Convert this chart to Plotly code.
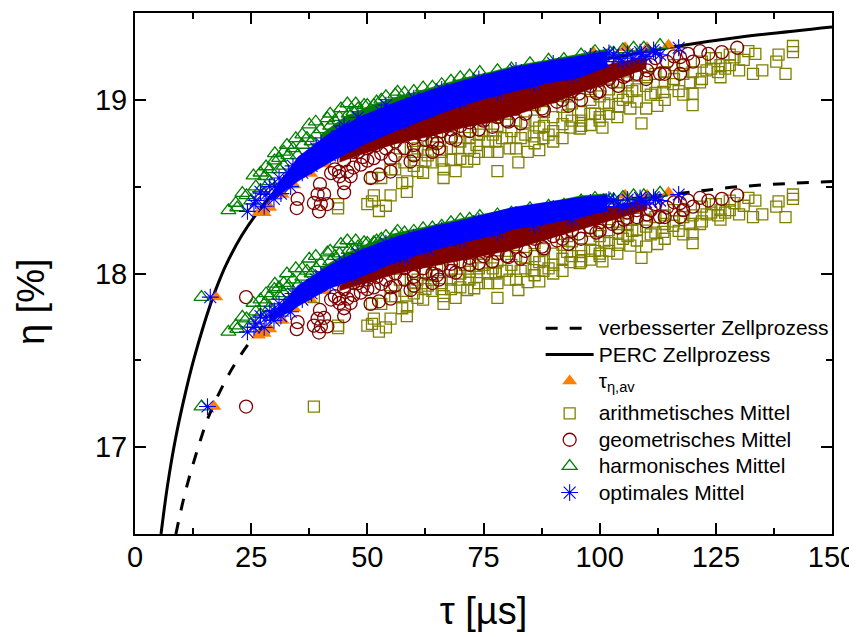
import plotly.graph_objects as go

FONT = "Liberation Sans"

perc_tau = [5.6, 7, 8.8, 11, 12.8, 16.2, 18, 19.6, 23, 26.6, 30, 40, 50, 60, 70, 80, 90, 100, 117, 130, 150]
perc_eta = [16.5, 16.78, 17.06, 17.33, 17.52, 17.82, 17.95, 18.05, 18.22, 18.36, 18.47, 18.72, 18.87, 18.98, 19.07, 19.13, 19.19, 19.23, 19.31, 19.36, 19.42]
impr_tau = [8.8, 11, 14.8, 15.9, 19.2, 22, 25.4, 30, 40, 50, 60, 70, 80, 90, 100, 117, 130, 150]
impr_eta = [16.5, 16.76, 17.1, 17.18, 17.37, 17.5, 17.63, 17.77, 17.97, 18.09, 18.18, 18.26, 18.32, 18.37, 18.41, 18.46, 18.50, 18.53]

extra_eta = [17.864, 17.234]
extra_arith = [38.5, 38.5]
extra_geo = [23.9, 23.9]
extra_harm = [14.3, 14.3]
extra_opt = [16.2, 15.6]
extra_avg = [17.4, 17.0]

avg_tau = [27.8, 26.6, 29, 31.7, 34.2, 37.8, 40.7, 45, 98.6, 105.5, 110.2, 114.8]
avg_up = [18.35, 18.35, 18.38, 18.455, 18.51, 18.576, 18.63, 18.70, 19.275, 19.30, 19.30, 19.315]
avg_lo = [17.655, 17.645, 17.68, 17.73, 17.80, 17.85, 17.90, 17.96, 18.42, 18.45, 18.45, 18.465]

arith_tau = [
    43.7, 43.7, 50, 51, 51.4, 52.5, 55, 54, 58.5, 51,
    53, 57.5, 58.6, 62, 60.8, 66.4, 66.4, 69, 71.5, 73,
    68, 64, 73.5, 72, 70, 60.8, 63, 69.5, 56, 62.5,
    78, 82.5, 80.6, 84.5, 87, 77.6, 85.8, 87.9, 93.7, 95.7,
    98, 100.6, 109, 103.8, 106.6, 112.4, 120, 120, 115.8, 126,
    133, 135, 140, 138, 138.5, 141.6, 141.6, 133.5, 132, 131,
    129, 130, 125.5, 123, 121.6, 119.5, 113.7, 118, 126, 122,
    75, 78, 81, 84, 87, 90, 93, 96, 99, 102,
    105, 108, 111, 114, 117, 110, 107, 104, 101, 92,
    89, 76, 79, 83, 90, 96, 100, 66, 71, 68,
    58, 60, 55, 62, 57, 65, 74, 80, 86, 93,
    112, 116, 125, 128, 108, 104, 98, 77,
    60, 62, 64, 66, 68, 70, 72, 74, 74, 76,
    78, 78, 80, 82, 82, 84, 86, 86, 88, 88,
    90, 92, 92, 94, 94, 96, 98, 98, 100, 100,
    102, 102, 104, 106, 106, 108, 110, 110, 112, 114,
    114, 116, 118, 118, 120, 122, 124, 124, 127, 128,
]
arith_up = [
    18.375, 18.40, 18.40, 18.415, 18.45, 18.36, 18.45, 18.39, 18.47, 18.55,
    18.55, 18.52, 18.53, 18.58, 18.59, 18.6, 18.55, 18.59, 18.645, 18.66,
    18.655, 18.64, 18.74, 18.78, 18.76, 18.72, 18.68, 18.72, 18.6, 18.65,
    18.59, 18.64, 18.72, 18.70, 18.71, 18.76, 18.79, 18.78, 18.84, 18.835,
    18.855, 18.84, 18.865, 18.90, 18.95, 18.965, 18.97, 19.035, 19.09, 19.13,
    19.15, 19.17, 19.15, 19.22, 19.26, 19.275, 19.31, 19.265, 19.28, 19.23,
    19.245, 19.17, 19.16, 19.17, 19.1, 19.1, 19.045, 19.15, 19.2, 19.22,
    18.82, 18.85, 18.82, 18.87, 18.84, 18.9, 18.91, 18.93, 18.92, 18.97,
    19.0, 18.99, 19.03, 19.1, 19.05, 19.08, 19.05, 19.04, 18.98, 18.86,
    18.8, 18.7, 18.78, 18.78, 18.76, 18.88, 18.9, 18.7, 18.82, 18.79,
    18.64, 18.7, 18.6, 18.77, 18.72, 18.79, 18.9, 18.92, 18.97, 19.02,
    19.15, 19.2, 19.24, 19.2, 19.14, 19.1, 19.05, 18.8,
    18.62, 18.7, 18.75, 18.65, 18.72, 18.66, 18.72, 18.8, 18.7, 18.76,
    18.7, 18.9, 18.78, 18.72, 18.88, 18.8, 18.75, 18.88, 18.85, 18.93,
    18.82, 18.78, 18.96, 18.88, 18.98, 18.85, 18.92, 19.0, 18.88, 19.02,
    18.92, 19.06, 18.96, 19.02, 19.1, 19.06, 18.95, 19.13, 19.04, 19.0,
    19.16, 19.12, 19.03, 19.2, 19.16, 19.12, 19.18, 19.24, 19.18, 19.26,
]
arith_lo = [
    17.685, 17.70, 17.70, 17.71, 17.74, 17.665, 17.74, 17.69, 17.755, 17.825,
    17.825, 17.80, 17.81, 17.85, 17.86, 17.87, 17.825, 17.86, 17.905, 17.915,
    17.91, 17.90, 17.98, 18.01, 18.0, 17.965, 17.93, 17.965, 17.87, 17.91,
    17.86, 17.905, 17.965, 17.95, 17.955, 18.0, 18.02, 18.015, 18.065, 18.06,
    18.08, 18.07, 18.09, 18.115, 18.16, 18.17, 18.175, 18.23, 18.275, 18.31,
    18.325, 18.34, 18.325, 18.385, 18.415, 18.43, 18.455, 18.42, 18.435, 18.39,
    18.405, 18.34, 18.335, 18.34, 18.285, 18.285, 18.24, 18.325, 18.365, 18.385,
    18.05, 18.07, 18.05, 18.09, 18.065, 18.115, 18.125, 18.14, 18.13, 18.175,
    18.2, 18.19, 18.225, 18.285, 18.245, 18.27, 18.245, 18.235, 18.185, 18.085,
    18.03, 17.945, 18.015, 18.015, 18.0, 18.1, 18.115, 17.945, 18.05, 18.02,
    17.90, 17.945, 17.87, 18.005, 17.965, 18.02, 18.115, 18.13, 18.175, 18.215,
    18.325, 18.365, 18.4, 18.365, 18.315, 18.285, 18.245, 18.03,
    17.885, 17.945, 17.99, 17.91, 17.965, 17.92, 17.965, 18.03, 17.945, 18.0,
    17.945, 18.115, 18.015, 17.965, 18.1, 18.03, 17.99, 18.1, 18.07, 18.14,
    18.05, 18.015, 18.165, 18.1, 18.185, 18.07, 18.13, 18.2, 18.1, 18.215,
    18.13, 18.25, 18.165, 18.215, 18.285, 18.25, 18.155, 18.31, 18.235, 18.2,
    18.335, 18.3, 18.225, 18.365, 18.335, 18.3, 18.35, 18.4, 18.35, 18.42,
]

geo_tau = [
    35, 34.8, 39.8, 38.5, 39.3, 40.7, 41.4, 39.6, 40, 45,
    42.2, 43.9, 45.7, 45, 46.4, 50.7, 52.5, 55, 59.3, 48.6,
    51.4, 56, 53, 64, 65.4, 62.5, 69, 60, 76.9, 80.4,
    83, 87.6, 93.3, 90.8, 95.5, 99.3, 102.7, 105.9, 113, 117.3,
    114.5, 120.1, 117.3, 119, 121.6, 123.4, 126.3, 129.6, 110.2, 108,
    105.2, 100.1, 72, 68, 75, 58, 49, 47, 44, 111,
    48, 50, 52, 54, 56, 58, 60, 62, 64, 66,
    68, 70, 72, 74, 76, 78, 80, 82, 84, 86,
    88, 90, 92, 94, 96, 98, 100, 102, 104, 106,
    108, 110, 112, 114, 116, 118, 104, 100, 96, 92,
    45, 43, 47, 50, 55, 60, 65,
]
geo_up = [
    18.43, 18.377, 18.515, 18.406, 18.455, 18.457, 18.4, 18.358, 18.4, 18.467,
    18.578, 18.587, 18.587, 18.52, 18.56, 18.55, 18.57, 18.587, 18.645, 18.627,
    18.664, 18.68, 18.69, 18.70, 18.72, 18.77, 18.77, 18.74, 18.845, 18.874,
    18.864, 18.95, 18.966, 18.989, 19.036, 19.04, 19.103, 19.143, 19.15, 19.15,
    19.218, 19.22, 19.246, 19.265, 19.28, 19.265, 19.275, 19.30, 19.17, 19.15,
    19.132, 19.115, 18.82, 18.83, 18.88, 18.8, 18.67, 18.61, 18.56, 19.2,
    18.7, 18.72, 18.74, 18.72, 18.76, 18.72, 18.78, 18.8, 18.76, 18.82,
    18.78, 18.85, 18.87, 18.83, 18.92, 18.9, 18.88, 18.95, 18.92, 19.0,
    18.94, 19.02, 19.0, 19.05, 19.0, 19.08, 19.05, 19.12, 19.08, 19.18,
    19.2, 19.12, 19.24, 19.15, 19.25, 19.2, 19.2, 19.17, 19.12, 19.08,
    18.65, 18.6, 18.7, 18.65, 18.66, 18.68, 18.75,
]
geo_lo = [
    17.72, 17.68, 17.79, 17.70, 17.74, 17.745, 17.695, 17.66, 17.695, 17.755,
    17.85, 17.855, 17.855, 17.80, 17.83, 17.825, 17.84, 17.855, 17.905, 17.89,
    17.92, 17.93, 17.94, 17.945, 17.965, 18.005, 18.005, 17.98, 18.07, 18.095,
    18.085, 18.155, 18.17, 18.19, 18.23, 18.235, 18.285, 18.32, 18.325, 18.325,
    18.38, 18.385, 18.405, 18.42, 18.435, 18.42, 18.43, 18.45, 18.34, 18.325,
    18.31, 18.295, 18.05, 18.055, 18.10, 18.03, 17.925, 17.875, 17.83, 18.365,
    17.945, 17.965, 17.98, 17.965, 18.0, 17.965, 18.015, 18.03, 18.0, 18.05,
    18.015, 18.07, 18.09, 18.06, 18.13, 18.115, 18.1, 18.155, 18.13, 18.2,
    18.145, 18.215, 18.2, 18.245, 18.2, 18.265, 18.245, 18.3, 18.265, 18.35,
    18.365, 18.3, 18.4, 18.325, 18.41, 18.365, 18.365, 18.34, 18.3, 18.265,
    17.91, 17.87, 17.945, 17.91, 17.92, 17.93, 17.99,
]

harm_tau = [
    20.1, 21.7, 23.1, 25.5, 28.2, 30.1, 31, 32.7, 34.6, 37.5,
    38.9, 41.4, 44.3, 45.7, 47.5, 49.3, 51.4, 56.5, 64, 74.2,
    26, 28, 29, 31, 33, 36, 37, 40, 43, 46,
    50, 53, 60, 68, 81, 92.3, 102.3, 103, 105, 107.3,
    109.5, 113,
    22, 24, 25, 27, 27, 29, 30, 32, 32, 34,
    35, 36, 38, 39, 42, 42, 44, 47, 48, 52,
    54, 56, 58, 62, 66, 70, 72, 78, 85, 89,
    96, 99,
]
harm_up = [
    18.364, 18.406, 18.463, 18.564, 18.616, 18.692, 18.664, 18.74, 18.778, 18.857,
    18.874, 18.893, 18.95, 18.979, 18.979, 18.97, 18.97, 19.046, 19.075, 19.16,
    18.5, 18.56, 18.6, 18.6, 18.68, 18.74, 18.78, 18.83, 18.88, 18.92,
    18.97, 19.0, 19.05, 19.11, 19.18, 19.235, 19.27, 19.27, 19.29, 19.30,
    19.30, 19.315,
    18.38, 18.45, 18.42, 18.48, 18.58, 18.53, 18.65, 18.62, 18.7, 18.72,
    18.68, 18.8, 18.76, 18.8, 18.85, 18.92, 18.9, 18.93, 18.95, 18.99,
    19.02, 19.03, 19.04, 19.07, 19.09, 19.13, 19.14, 19.17, 19.21, 19.23,
    19.26, 19.28,
]
harm_lo = [
    17.664, 17.70, 17.75, 17.83, 17.885, 17.94, 17.92, 18.0, 18.03, 18.085,
    18.1, 18.12, 18.17, 18.19, 18.19, 18.18, 18.18, 18.245, 18.265, 18.33,
    17.78, 17.83, 17.87, 17.87, 17.93, 17.98, 18.015, 18.06, 18.10, 18.135,
    18.175, 18.2, 18.245, 18.295, 18.35, 18.395, 18.425, 18.425, 18.44, 18.45,
    18.45, 18.465,
    17.68, 17.74, 17.71, 17.765, 17.85, 17.805, 17.91, 17.885, 17.945, 17.965,
    17.93, 18.03, 18.0, 18.03, 18.07, 18.13, 18.115, 18.14, 18.155, 18.19,
    18.215, 18.225, 18.235, 18.26, 18.275, 18.31, 18.315, 18.34, 18.375, 18.39,
    18.42, 18.435,
]

opt_tau = [
    24.2, 25.6, 27.8, 28.2, 29.9, 31.4, 31, 33, 30, 32,
    35, 37, 39, 41, 43, 46, 45, 49, 53, 56,
    103, 106, 108.7, 111.6, 117, 100, 105, 110, 112, 97,
    34, 36, 38, 40, 42, 44, 47, 48, 51, 54,
    58, 60, 63, 66, 70, 74, 78, 82, 86, 90,
    94, 98, 26, 27, 29, 33.5, 101, 102, 104, 107,
    109, 113,
]
opt_up = [
    18.358, 18.40, 18.387, 18.455, 18.43, 18.46, 18.55, 18.58, 18.5, 18.52,
    18.6, 18.66, 18.72, 18.7, 18.77, 18.79, 18.85, 18.85, 18.93, 18.87,
    19.26, 19.264, 19.275, 19.287, 19.30, 19.24, 19.22, 19.25, 19.27, 19.2,
    18.62, 18.58, 18.62, 18.75, 18.68, 18.82, 18.75, 18.9, 18.82, 18.97,
    18.87, 19.01, 18.93, 19.06, 18.99, 19.12, 19.04, 19.17, 19.09, 19.21,
    19.14, 19.25, 18.42, 18.47, 18.5, 18.5, 19.22, 19.27, 19.24, 19.24,
    19.26, 19.26,
]
opt_lo = [
    17.664, 17.69, 17.69, 17.745, 17.73, 17.755, 17.825, 17.85, 17.785, 17.80,
    17.87, 17.92, 17.965, 17.95, 18.005, 18.02, 18.07, 18.07, 18.13, 18.09,
    18.42, 18.425, 18.435, 18.44, 18.455, 18.40, 18.385, 18.41, 18.425, 18.365,
    17.885, 17.85, 17.885, 17.99, 17.93, 18.05, 17.99, 18.115, 18.05, 18.175,
    18.09, 18.21, 18.14, 18.25, 18.19, 18.30, 18.235, 18.34, 18.275, 18.375,
    18.315, 18.41, 17.71, 17.755, 17.78, 17.78, 18.385, 18.425, 18.40, 18.40,
    18.42, 18.42,
]

# solid cores of the overlapping clouds
core_tau = [40, 45, 50, 56.5, 63.6, 70.8, 76.5, 81.5, 88.7, 95.9, 101.6]
green_top_up = [18.80, 18.90, 18.96, 19.017, 19.069, 19.126, 19.16, 19.195, 19.229, 19.264, 19.292]
green_bot_up = [18.72, 18.82, 18.88, 18.95, 19.0, 19.05, 19.1, 19.13, 19.17, 19.2, 19.24]
green_top_lo = [18.03, 18.11, 18.17, 18.235, 18.275, 18.32, 18.35, 18.378, 18.407, 18.447, 18.46]
green_bot_lo = [17.98, 18.05, 18.11, 18.17, 18.21, 18.26, 18.30, 18.33, 18.36, 18.39, 18.42]

blue_tau = [29, 31, 33.5, 35, 42, 49, 56.5, 63.6, 70.8, 76.5, 81.5, 88.7, 95.9, 101.6]
blue_top_up = [18.44, 18.53, 18.61, 18.67, 18.81, 18.91, 18.99, 19.056, 19.113, 19.153, 19.188, 19.222, 19.256, 19.28]
blue_bot_up = [18.42, 18.45, 18.50, 18.53, 18.64, 18.74, 18.825, 18.90, 18.97, 19.015, 19.05, 19.095, 19.13, 19.19]
blue_top_lo = [17.74, 17.81, 17.88, 17.93, 18.05, 18.14, 18.215, 18.268, 18.31, 18.348, 18.382, 18.411, 18.44, 18.452]
blue_bot_lo = [17.72, 17.75, 17.78, 17.81, 17.915, 17.985, 18.07, 18.13, 18.18, 18.215, 18.255, 18.285, 18.325, 18.36]

maroon_tau = [44, 48, 56.5, 63.6, 70.8, 76.5, 81.5, 88.7, 95.9, 103, 110]
maroon_top_up = [18.68, 18.76, 18.86, 18.93, 19.0, 19.04, 19.08, 19.12, 19.16, 19.21, 19.25]
maroon_bot_up = [18.64, 18.68, 18.75, 18.79, 18.84, 18.87, 18.91, 18.97, 19.04, 19.11, 19.18]
maroon_top_lo = [17.93, 18.0, 18.10, 18.16, 18.21, 18.245, 18.285, 18.314, 18.354, 18.388, 18.43]
maroon_bot_lo = [17.90, 17.93, 18.0, 18.04, 18.08, 18.11, 18.14, 18.2, 18.255, 18.31, 18.365]

OLIVE, MAROON, GREEN, BLUE, ORANGE = "#808000", "#800000", "#008000", "#0000ff", "#ff8000"
LEGEND_TEXT = '<span style="font-size:21px">%s</span>'


def band(tau, hi, lo, color):
    return go.Scatter(x=tau + tau[::-1], y=hi + lo[::-1], mode="lines", fill="toself",
                      fillcolor=color, line=dict(width=0.5, color=color),
                      showlegend=False, hoverinfo="skip")


def cloud(tau, eta, name, color, symbol, size, group, width=1.3):
    return go.Scatter(x=tau, y=eta, mode="markers", name=LEGEND_TEXT % name, legendgroup=group,
                      marker=dict(symbol=symbol, size=size, color=color,
                                  line=dict(color=color, width=width)))


fig = go.Figure()
fig.add_trace(go.Scatter(x=impr_tau, y=impr_eta, mode="lines", name=LEGEND_TEXT % "verbesserter Zellprozess",
                         legendgroup="a", line=dict(color="black", width=3, dash="12px,12px", shape="spline")))
fig.add_trace(go.Scatter(x=perc_tau, y=perc_eta, mode="lines", name=LEGEND_TEXT % "PERC Zellprozess",
                         legendgroup="a", line=dict(color="black", width=3, shape="spline")))
fig.add_trace(cloud(avg_tau + avg_tau + extra_avg, avg_up + avg_lo + extra_eta,
                    "τ<sub>η,av</sub>", ORANGE, "triangle-up", 13, "a", 0))
fig.add_trace(cloud(arith_tau + arith_tau + extra_arith, arith_up + arith_lo + extra_eta,
                    "arithmetisches Mittel", OLIVE, "square-open", 11, "b"))
fig.add_trace(band(maroon_tau, maroon_top_up, maroon_bot_up, MAROON))
fig.add_trace(band(maroon_tau, maroon_top_lo, maroon_bot_lo, MAROON))
fig.add_trace(cloud(geo_tau + geo_tau + extra_geo, geo_up + geo_lo + extra_eta,
                    "geometrisches Mittel", MAROON, "circle-open", 13, "b"))
fig.add_trace(band(core_tau, green_top_up, green_bot_up, GREEN))
fig.add_trace(band(core_tau, green_top_lo, green_bot_lo, GREEN))
fig.add_trace(cloud(harm_tau + harm_tau + extra_harm, harm_up + harm_lo + extra_eta,
                    "harmonisches Mittel", GREEN, "triangle-up-open", 13, "b"))
fig.add_trace(band(blue_tau, blue_top_up, blue_bot_up, BLUE))
fig.add_trace(band(blue_tau, blue_top_lo, blue_bot_lo, BLUE))
fig.add_trace(cloud(opt_tau + opt_tau + extra_opt, opt_up + opt_lo + extra_eta,
                    "optimales Mittel", BLUE, "asterisk-open", 14, "b", 1.1))

axis_common = dict(showgrid=False, zeroline=False, showline=True, linecolor="black", linewidth=2,
                   mirror="ticks", ticks="inside", ticklen=11, tickwidth=2, tickcolor="black",
                   tickfont=dict(family=FONT, size=29, color="black"))
fig.update_xaxes(range=[0, 150], tickvals=[0, 25, 50, 75, 100, 125, 150], ticklabelstandoff=-4,
                 minor=dict(dtick=12.5, tick0=0, ticks="inside", ticklen=6, tickwidth=2, tickcolor="black"),
                 title=dict(text="τ [µs]", font=dict(family=FONT, size=38, color="black"), standoff=26),
                 **axis_common)
fig.update_yaxes(range=[16.5, 19.5], tickvals=[17, 18, 19], ticklabelstandoff=0,
                 minor=dict(dtick=0.5, tick0=16.5, ticks="inside", ticklen=6, tickwidth=2, tickcolor="black"),
                 **axis_common)
fig.add_annotation(text="η [%]", xref="paper", yref="paper", x=-0.15, y=0.446, textangle=-90,
                   showarrow=False, xanchor="center", yanchor="middle",
                   font=dict(family=FONT, size=38, color="black"))
fig.update_layout(width=849, height=629, autosize=False, template=None,
                  margin=dict(l=127, r=25, t=5, b=103),
                  paper_bgcolor="white", plot_bgcolor="white",
                  font=dict(family=FONT, color="black"),
                  legend=dict(x=0.582, y=0.43, xanchor="left", yanchor="top", bgcolor="rgba(0,0,0,0)",
                              itemwidth=48, font=dict(family=FONT, size=18, color="black"),
                              traceorder="grouped", tracegroupgap=6))
fig.write_html("out.html")
